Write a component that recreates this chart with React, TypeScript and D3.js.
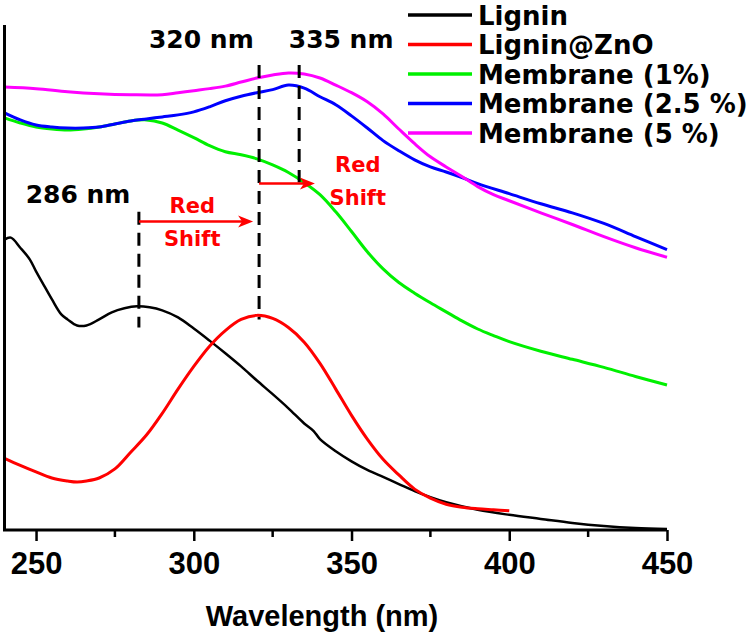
import React, { useEffect, useRef } from 'react';
import * as d3 from 'd3';

// UV-vis absorbance spectra (a.u.)
const ligninWl = [240, 242, 245, 248, 250, 252, 255, 258, 260, 263, 266, 270, 274, 278, 282, 286, 290, 295, 300, 305, 310, 315, 320, 325, 330, 335, 338, 340, 345, 350, 355, 360, 365, 370, 375, 380, 390, 400, 410, 420, 430, 440, 450];
const ligninAbs = [0.575, 0.579, 0.559, 0.536, 0.512, 0.49, 0.457, 0.427, 0.417, 0.405, 0.405, 0.417, 0.431, 0.439, 0.443, 0.441, 0.435, 0.421, 0.399, 0.375, 0.35, 0.324, 0.296, 0.269, 0.241, 0.211, 0.196, 0.18, 0.156, 0.136, 0.119, 0.105, 0.091, 0.077, 0.065, 0.055, 0.04, 0.03, 0.022, 0.014, 0.008, 0.004, 0.002];

const znoWl = [240, 245, 250, 255, 260, 263, 266, 270, 275, 280, 285, 290, 295, 300, 305, 310, 315, 320, 325, 330, 335, 340, 345, 350, 355, 360, 365, 370, 375, 380, 385, 390, 395, 400];
const znoAbs = [0.142, 0.128, 0.115, 0.103, 0.097, 0.095, 0.097, 0.103, 0.121, 0.154, 0.188, 0.231, 0.279, 0.324, 0.364, 0.395, 0.417, 0.425, 0.419, 0.401, 0.372, 0.33, 0.279, 0.227, 0.18, 0.14, 0.109, 0.081, 0.063, 0.051, 0.045, 0.042, 0.04, 0.038];

const mem1Wl = [240, 245, 250, 255, 260, 265, 270, 275, 280, 285, 290, 295, 300, 305, 310, 315, 320, 325, 330, 335, 340, 345, 350, 355, 360, 365, 370, 375, 380, 385, 390, 395, 400, 410, 420, 430, 440, 450];
const mem1Abs = [0.816, 0.806, 0.798, 0.794, 0.792, 0.794, 0.798, 0.804, 0.81, 0.812, 0.806, 0.792, 0.777, 0.761, 0.749, 0.743, 0.735, 0.723, 0.708, 0.688, 0.664, 0.63, 0.591, 0.551, 0.517, 0.49, 0.469, 0.45, 0.432, 0.414, 0.398, 0.385, 0.373, 0.354, 0.338, 0.322, 0.304, 0.287];

const mem25Wl = [240, 245, 250, 255, 260, 265, 270, 275, 280, 285, 290, 295, 300, 305, 310, 315, 320, 325, 330, 335, 340, 345, 350, 355, 360, 365, 370, 375, 380, 385, 390, 400, 410, 420, 430, 440, 450];
const mem25Abs = [0.826, 0.812, 0.802, 0.798, 0.796, 0.796, 0.798, 0.804, 0.81, 0.814, 0.818, 0.822, 0.828, 0.838, 0.85, 0.859, 0.866, 0.872, 0.881, 0.875, 0.858, 0.842, 0.82, 0.796, 0.771, 0.751, 0.733, 0.719, 0.709, 0.698, 0.686, 0.666, 0.646, 0.628, 0.607, 0.581, 0.555];

const mem5Wl = [240, 250, 260, 270, 280, 290, 295, 300, 305, 310, 315, 320, 325, 330, 335, 340, 345, 350, 355, 360, 365, 370, 375, 380, 385, 390, 395, 400, 410, 420, 430, 440, 450];
const mem5Abs = [0.877, 0.874, 0.868, 0.864, 0.862, 0.862, 0.866, 0.87, 0.874, 0.879, 0.887, 0.895, 0.901, 0.905, 0.903, 0.895, 0.881, 0.866, 0.848, 0.824, 0.794, 0.765, 0.739, 0.719, 0.7, 0.68, 0.664, 0.652, 0.628, 0.605, 0.581, 0.559, 0.54];

const seriesNames = ['Lignin', 'Lignin@ZnO', 'Membrane (1%)', 'Membrane (2.5 %)', 'Membrane (5 %)'];
const seriesColors = ['#000000', '#ff0000', '#00f000', '#0000ff', '#ff00ff'];
const seriesWl = [ligninWl, znoWl, mem1Wl, mem25Wl, mem5Wl];
const seriesAbs = [ligninAbs, znoAbs, mem1Abs, mem25Abs, mem5Abs];

const majorTicks = [250, 300, 350, 400, 450];
const minorTicks = [275, 325, 375, 425];

// peak markers: wavelength position, dashed line extent (abs), label
const peakWl = [282.6, 320.7, 333.4];
const peakTop = [0.63, 0.921, 0.921];
const peakBottom = [0.401, 0.417, 0.688];
const peakLabels = ['286 nm', '320 nm', '335 nm'];
const peakLabelWl = [263.3, 302.4, 346.7];
const peakLabelAbs = [0.648, 0.955, 0.955];

// red-shift arrows
const arrowFrom = [282.6, 320.7];
const arrowTo = [318.8, 338.4];
const arrowAbs = [0.611, 0.686];
const shiftLabelWl = [299.5, 352];
const shiftLabelAbs = [0.628, 0.708];

const W = 752;
const H = 637;

export default function App() {
  const svgRef = useRef<SVGSVGElement>(null);

  useEffect(() => {
    if (!svgRef.current) return;
    const svg = d3.select(svgRef.current);
    svg.selectAll('*').remove();

    const x = d3.scaleLinear().domain([240, 450]).range([4.5, 667]);
    const y = d3.scaleLinear().domain([0, 1]).range([530, 25]);

    const line = d3
      .line<[number, number]>()
      .x(d => x(d[0]))
      .y(d => y(d[1]))
      .curve(d3.curveCatmullRom.alpha(0.5));

    // spectra
    seriesNames.forEach((name, i) => {
      const pts = seriesWl[i].map((w, j) => [w, seriesAbs[i][j]] as [number, number]);
      svg
        .append('path')
        .attr('d', line(pts))
        .attr('fill', 'none')
        .attr('stroke', seriesColors[i])
        .attr('stroke-width', i === 0 ? 2.5 : 3)
        .attr('stroke-linejoin', 'round');
    });

    // axes
    const axisG = svg.append('g').attr('transform', `translate(0,${y(0)})`);
    axisG
      .call(d3.axisBottom(x).tickValues(majorTicks).tickSize(11).tickFormat(d3.format('d')))
      .call(g => g.select('.domain').remove());
    axisG.selectAll('.tick line').attr('stroke', '#000').attr('stroke-width', 2.5);
    axisG
      .selectAll('.tick text')
      .attr('y', 44)
      .attr('dy', 0)
      .attr('fill', '#000')
      .style('font-family', '"Liberation Sans", Arial, sans-serif')
      .style('font-weight', 'bold')
      .style('font-size', '31px');

    svg
      .append('g')
      .selectAll('line')
      .data(minorTicks)
      .enter()
      .append('line')
      .attr('x1', d => x(d))
      .attr('x2', d => x(d))
      .attr('y1', y(0))
      .attr('y2', y(0) + 7)
      .attr('stroke', '#000')
      .attr('stroke-width', 2.5);

    svg
      .append('path')
      .attr('d', `M${x(240)},${y(1)}V${y(0)}H${x(450)}`)
      .attr('fill', 'none')
      .attr('stroke', '#000')
      .attr('stroke-width', 3);

    svg
      .append('text')
      .attr('x', 322)
      .attr('y', 626)
      .attr('text-anchor', 'middle')
      .style('font-family', '"Liberation Sans", Arial, sans-serif')
      .style('font-weight', 'bold')
      .style('font-size', '29px')
      .text('Wavelength (nm)');

    // peak dashed lines
    peakWl.forEach((w, i) => {
      svg
        .append('line')
        .attr('x1', x(w))
        .attr('x2', x(w))
        .attr('y1', y(peakTop[i]))
        .attr('y2', y(peakBottom[i]))
        .attr('stroke', '#000')
        .attr('stroke-width', 3)
        .attr('stroke-dasharray', '13,8');
      svg
        .append('text')
        .attr('x', x(peakLabelWl[i]))
        .attr('y', y(peakLabelAbs[i]))
        .attr('text-anchor', 'middle')
        .style('font-family', '"DejaVu Sans", sans-serif')
        .style('font-weight', 'bold')
        .style('font-size', '25px')
        .text(peakLabels[i]);
    });

    // red shift arrows
    arrowFrom.forEach((w, i) => {
      const x0 = x(w);
      const x1 = x(arrowTo[i]);
      const yy = y(arrowAbs[i]);
      svg
        .append('line')
        .attr('x1', x0)
        .attr('x2', x1 - 8)
        .attr('y1', yy)
        .attr('y2', yy)
        .attr('stroke', '#ff0000')
        .attr('stroke-width', 2.5);
      svg
        .append('path')
        .attr('d', `M${x1},${yy}L${x1 - 15},${yy - 6}L${x1 - 11},${yy}L${x1 - 15},${yy + 6}Z`)
        .attr('fill', '#ff0000');
      const t = svg
        .append('text')
        .attr('text-anchor', 'middle')
        .attr('fill', '#ff0000')
        .style('font-family', '"DejaVu Sans", sans-serif')
        .style('font-weight', 'bold')
        .style('font-size', '21px');
      t.append('tspan').attr('x', x(shiftLabelWl[i])).attr('y', y(shiftLabelAbs[i])).text('Red');
      t.append('tspan').attr('x', x(shiftLabelWl[i])).attr('dy', 33).text('Shift');
    });

    // legend
    const legend = svg.append('g').attr('transform', 'translate(408,15)');
    seriesNames.forEach((name, i) => {
      const row = legend.append('g').attr('transform', `translate(0,${i * 29.5})`);
      row
        .append('line')
        .attr('x1', 0)
        .attr('x2', 64)
        .attr('stroke', seriesColors[i])
        .attr('stroke-width', 3.5);
      row
        .append('text')
        .attr('x', 70)
        .attr('y', 9.5)
        .style('font-family', '"DejaVu Sans", sans-serif')
        .style('font-weight', 'bold')
        .style('font-size', '26px')
        .text(name);
    });
  }, []);

  return (
    <svg
      ref={svgRef}
      width={W}
      height={H}
      style={{ position: 'absolute', left: 0, top: 0, background: '#fff' }}
    />
  );
}
